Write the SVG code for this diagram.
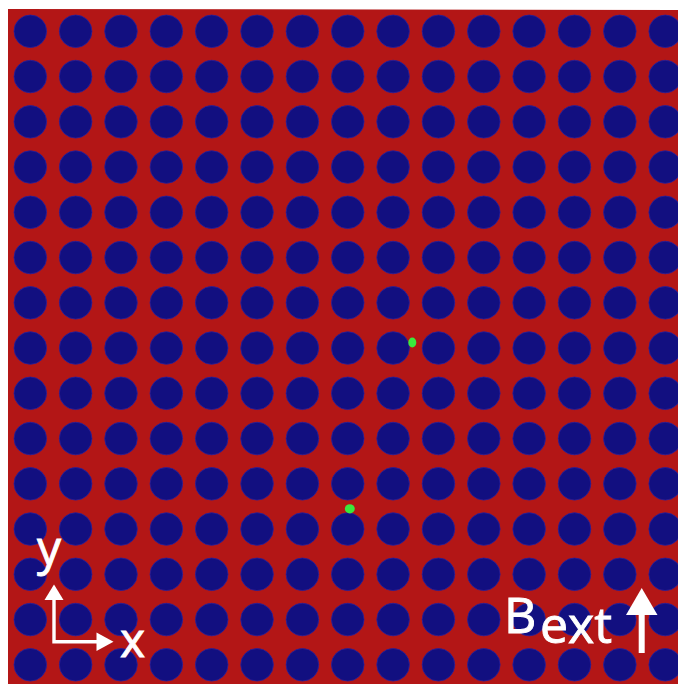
<svg xmlns="http://www.w3.org/2000/svg" xmlns:xlink="http://www.w3.org/1999/xlink" width="678" height="684" viewBox="0 0 678 684">
<style>
.dot{fill:#120f80;stroke:#2b1f9a;stroke-width:0.8}
.lbl{font-family:"Open Sans","Liberation Sans",sans-serif;fill:#ffffff;stroke:#ffffff;stroke-width:0.9}
.ax{stroke:#ffffff;fill:none}
.hd{fill:#ffffff}
.gr{fill:#3ce83c}
</style>
<defs>
<g id="row">
<circle class="dot" cx="30.3" cy="0" r="16.3"/>
<circle class="dot" cx="75.65" cy="0" r="16.3"/>
<circle class="dot" cx="121" cy="0" r="16.3"/>
<circle class="dot" cx="166.35" cy="0" r="16.3"/>
<circle class="dot" cx="211.7" cy="0" r="16.3"/>
<circle class="dot" cx="257.05" cy="0" r="16.3"/>
<circle class="dot" cx="302.4" cy="0" r="16.3"/>
<circle class="dot" cx="347.75" cy="0" r="16.3"/>
<circle class="dot" cx="393.1" cy="0" r="16.3"/>
<circle class="dot" cx="438.45" cy="0" r="16.3"/>
<circle class="dot" cx="483.8" cy="0" r="16.3"/>
<circle class="dot" cx="529.15" cy="0" r="16.3"/>
<circle class="dot" cx="574.5" cy="0" r="16.3"/>
<circle class="dot" cx="619.85" cy="0" r="16.3"/>
<circle class="dot" cx="665.2" cy="0" r="16.3"/>
</g>
</defs>
<rect x="0" y="0" width="678" height="684" fill="#ffffff"/>
<polygon points="8,9 678,10 678,684 8,684" fill="#b31616"/>
<g id="lattice">
<use xlink:href="#row" y="31.3"/>
<use xlink:href="#row" y="76.55"/>
<use xlink:href="#row" y="121.8"/>
<use xlink:href="#row" y="167.05"/>
<use xlink:href="#row" y="212.3"/>
<use xlink:href="#row" y="257.55"/>
<use xlink:href="#row" y="302.8"/>
<use xlink:href="#row" y="348.05"/>
<use xlink:href="#row" y="393.3"/>
<use xlink:href="#row" y="438.55"/>
<use xlink:href="#row" y="483.8"/>
<use xlink:href="#row" y="529.05"/>
<use xlink:href="#row" y="574.3"/>
<use xlink:href="#row" y="619.55"/>
<use xlink:href="#row" y="664.8"/>
</g>
<g id="defects">
<ellipse class="gr" cx="412.3" cy="342.5" rx="4" ry="5"/>
<ellipse class="gr" cx="349.8" cy="508.8" rx="5" ry="4.6"/>
</g>
<g id="axes">
<path class="ax" d="M54,599 V641.7 H97" stroke-width="3.4"/>
<polygon class="hd" points="54,584.5 44.5,600 63.5,600"/>
<polygon class="hd" points="113.5,641.7 96.5,632.5 96.5,651"/>
<text class="lbl" x="37" y="565" font-size="48">y</text>
<text class="lbl" x="120" y="657" font-size="48">x</text>
</g>
<g id="bext">
<text class="lbl" x="504" y="633" font-size="50">B</text>
<text class="lbl" x="540" y="643" font-size="50">ext</text>
<line class="ax" x1="641.7" y1="653" x2="641.7" y2="613" stroke-width="6"/>
<polygon class="hd" points="641.7,588 626,615 657.5,615"/>
</g>
</svg>
